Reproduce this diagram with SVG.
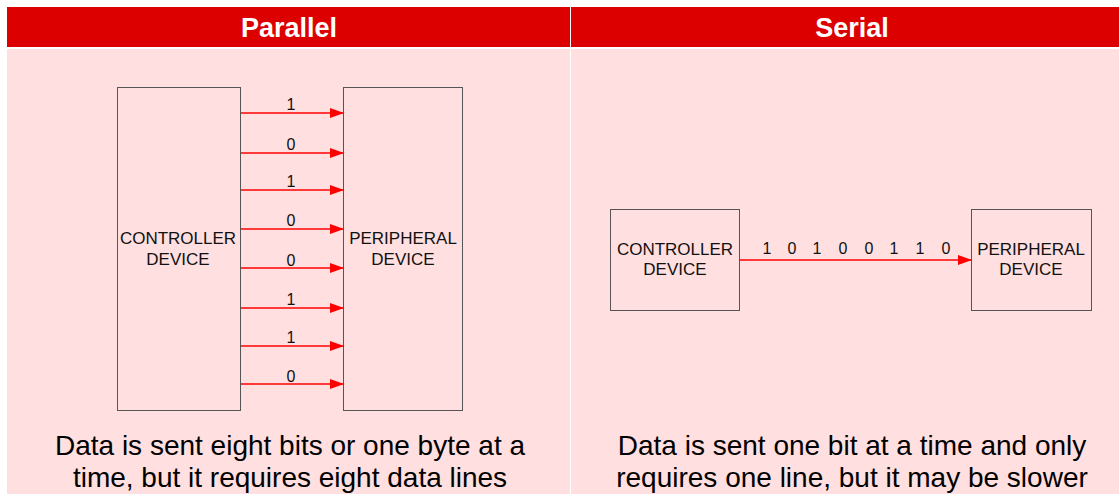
<svg xmlns="http://www.w3.org/2000/svg" width="1119" height="494" viewBox="0 0 1119 494">
<style>
.hdr{fill:#dd0000}
.cell{fill:#ffdfdf}
.box{fill:#ffdfdf;stroke:#555;stroke-width:1}
.ht{font-family:"Liberation Sans",Arial,sans-serif;font-size:27px;font-weight:bold;fill:#fff;text-anchor:middle}
.bt{font-family:"Liberation Sans",Arial,sans-serif;font-size:17px;fill:#111;text-anchor:middle}
.lb{font-family:"Liberation Sans",Arial,sans-serif;font-size:16px;fill:#111;text-anchor:middle}
.cap{font-family:"Liberation Sans",Arial,sans-serif;font-size:28px;fill:#000;text-anchor:middle}
.wire{stroke:#ff0000;stroke-width:1.5;fill:none;marker-end:url(#ah)}
</style>
<defs>
<marker id="ah" markerWidth="14" markerHeight="10" refX="13" refY="5" orient="auto" markerUnits="userSpaceOnUse">
<path d="M0,0 L14,5 L0,10 Z" fill="#ff0000"/>
</marker>
</defs>
<rect width="1119" height="494" fill="#fff"/>
<g id="background">
<rect class="hdr" x="7" y="7" width="563" height="40"/>
<rect class="hdr" x="571" y="7" width="548" height="40"/>
<rect class="cell" x="7" y="49" width="563" height="445"/>
<rect class="cell" x="571" y="49" width="548" height="445"/>
<text class="ht" x="289" y="37">Parallel</text>
<text class="ht" x="852" y="37">Serial</text>
</g>
<g id="p-controller">
<rect class="box" x="117.5" y="87.5" width="123" height="323"/>
<text class="bt" x="178" y="244">CONTROLLER</text>
<text class="bt" x="178" y="265">DEVICE</text>
</g>
<g id="p-peripheral">
<rect class="box" x="343.5" y="87.5" width="119" height="323"/>
<text class="bt" x="403" y="244">PERIPHERAL</text>
<text class="bt" x="403" y="265">DEVICE</text>
</g>
<g id="s-controller">
<rect class="box" x="610.5" y="209.5" width="129" height="101"/>
<text class="bt" x="675" y="255">CONTROLLER</text>
<text class="bt" x="675" y="275">DEVICE</text>
</g>
<g id="s-peripheral">
<rect class="box" x="971.5" y="209.5" width="120" height="101"/>
<text class="bt" x="1031" y="255">PERIPHERAL</text>
<text class="bt" x="1031" y="275">DEVICE</text>
</g>
<g id="connectors">
<line class="wire" x1="241" y1="113" x2="343" y2="113"/>
<line class="wire" x1="241" y1="153" x2="343" y2="153"/>
<line class="wire" x1="241" y1="190" x2="343" y2="190"/>
<line class="wire" x1="241" y1="229" x2="343" y2="229"/>
<line class="wire" x1="241" y1="268" x2="343" y2="268"/>
<line class="wire" x1="241" y1="308" x2="343" y2="308"/>
<line class="wire" x1="241" y1="346" x2="343" y2="346"/>
<line class="wire" x1="241" y1="384" x2="343" y2="384"/>
<line class="wire" x1="740" y1="260" x2="971" y2="260"/>
<text class="lb" x="291" y="110">1</text>
<text class="lb" x="291" y="150">0</text>
<text class="lb" x="291" y="187">1</text>
<text class="lb" x="291" y="226">0</text>
<text class="lb" x="291" y="266">0</text>
<text class="lb" x="291" y="305">1</text>
<text class="lb" x="291" y="343">1</text>
<text class="lb" x="291" y="382">0</text>
<text class="lb" x="767" y="254">1</text>
<text class="lb" x="792" y="254">0</text>
<text class="lb" x="817" y="254">1</text>
<text class="lb" x="843" y="254">0</text>
<text class="lb" x="869" y="254">0</text>
<text class="lb" x="894" y="254">1</text>
<text class="lb" x="920" y="254">1</text>
<text class="lb" x="946" y="254">0</text>
</g>
<g id="captions">
<text class="cap" x="290" y="455">Data is sent eight bits or one byte at a</text>
<text class="cap" x="290" y="487">time, but it requires eight data lines</text>
<text class="cap" x="852" y="455">Data is sent one bit at a time and only</text>
<text class="cap" x="852" y="487">requires one line, but it may be slower</text>
</g>
</svg>
